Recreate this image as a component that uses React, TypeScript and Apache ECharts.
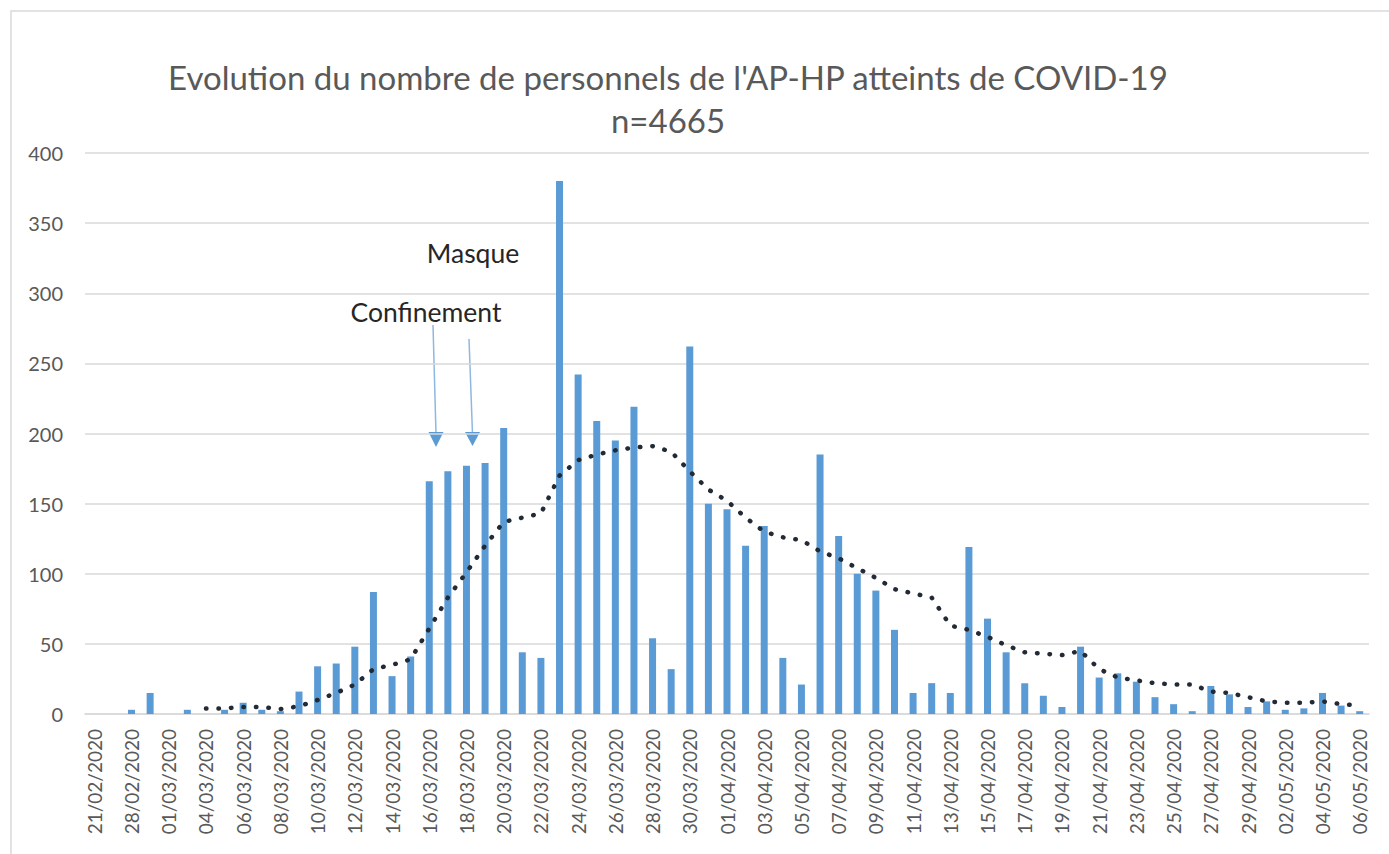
import React, { useEffect, useRef } from "react";
import * as echarts from "echarts";

const dates = [
  "21/02/2020", "27/02/2020", "28/02/2020", "29/02/2020", "01/03/2020", "02/03/2020",
  "04/03/2020", "05/03/2020", "06/03/2020", "07/03/2020", "08/03/2020", "09/03/2020",
  "10/03/2020", "11/03/2020", "12/03/2020", "13/03/2020", "14/03/2020", "15/03/2020",
  "16/03/2020", "17/03/2020", "18/03/2020", "19/03/2020", "20/03/2020", "21/03/2020",
  "22/03/2020", "23/03/2020", "24/03/2020", "25/03/2020", "26/03/2020", "27/03/2020",
  "28/03/2020", "29/03/2020", "30/03/2020", "31/03/2020", "01/04/2020", "02/04/2020",
  "03/04/2020", "04/04/2020", "05/04/2020", "06/04/2020", "07/04/2020", "08/04/2020",
  "09/04/2020", "10/04/2020", "11/04/2020", "12/04/2020", "13/04/2020", "14/04/2020",
  "15/04/2020", "16/04/2020", "17/04/2020", "18/04/2020", "19/04/2020", "20/04/2020",
  "21/04/2020", "22/04/2020", "23/04/2020", "24/04/2020", "25/04/2020", "26/04/2020",
  "27/04/2020", "28/04/2020", "29/04/2020", "30/04/2020", "02/05/2020", "03/05/2020",
  "04/05/2020", "05/05/2020", "06/05/2020",
];

const cases = [
  0, 0, 3, 15, 0, 3,
  0, 3, 8, 3, 2, 16,
  34, 36, 48, 87, 27, 41,
  166, 173, 177, 179, 204, 44,
  40, 380, 242, 209, 195, 219,
  54, 32, 262, 150, 146, 120,
  134, 40, 21, 185, 127, 100,
  88, 60, 15, 22, 15, 119,
  68, 44, 22, 13, 5, 48,
  26, 29, 23, 12, 7, 2,
  20, 14, 5, 9, 3, 4,
  15, 6, 2,
];

const trend = [
  null, null, null, null, null, null,
  4, 4, 5, 5, 3.5, 5.5,
  10, 15, 21, 32, 35, 39,
  61, 83, 101, 120, 137, 140,
  143, 170, 181, 185, 188, 190,
  191, 187, 173, 160, 152, 140,
  130, 126, 124, 116, 111, 104,
  97, 89, 86, 83, 63, 60,
  55, 49, 44, 43, 42, 45,
  32, 26, 24, 22, 21, 21,
  16, 15, 12, 9, 8, 8,
  9, 7, 6,
];

const yTicks = { min: 0, max: 400, interval: 50 };

const titleLines = [
  "Evolution du nombre de personnels de l'AP-HP atteints de COVID-19",
  "n=4665",
];

const FONT = "Lato, 'Open Sans', sans-serif";

export default function App() {
  const ref = useRef<HTMLDivElement>(null);

  useEffect(() => {
    document.body.style.margin = "0";
    const chart = echarts.init(ref.current!, null, { renderer: "svg" });
    chart.setOption({
      animation: false,
      backgroundColor: "#ffffff",
      textStyle: { fontFamily: FONT },
      grid: { left: 85, right: 20, top: 153, bottom: 140, containLabel: false },
      xAxis: {
        type: "category",
        data: dates,
        axisLine: { lineStyle: { color: "#d9d9d9", width: 1.5 } },
        axisTick: { show: false },
        axisLabel: {
          interval: 1,
          rotate: 90,
          fontSize: 19,
          color: "#595959",
          margin: 15,
          fontFamily: FONT,
        },
      },
      yAxis: {
        type: "value",
        min: yTicks.min,
        max: yTicks.max,
        interval: yTicks.interval,
        axisLine: { show: false },
        axisTick: { show: false },
        axisLabel: { fontSize: 20, color: "#595959", margin: 22, fontFamily: FONT },
        splitLine: { lineStyle: { color: "#d9d9d9", width: 1.5 } },
      },
      series: [
        {
          type: "bar",
          data: cases,
          barWidth: 7,
          itemStyle: { color: "#5B9BD5" },
        },
        {
          type: "line",
          data: trend,
          symbol: "none",
          connectNulls: false,
          lineStyle: {
            color: "#222A35",
            width: 4.5,
            type: [0.5, 12],
            cap: "round",
          },
          z: 5,
        },
      ],
      graphic: [
        {
          type: "rect",
          shape: { x: 11, y: 11, width: 1400, height: 900 },
          style: { fill: "none", stroke: "#d9d9d9", lineWidth: 1.5 },
          silent: true,
          z: -1,
        },
        {
          type: "text",
          x: 668,
          y: 77,
          style: {
            text: titleLines[0],
            fontSize: 33,
            fontFamily: FONT,
            fill: "#595959",
            textAlign: "center",
            textVerticalAlign: "middle",
          },
        },
        {
          type: "text",
          x: 668,
          y: 120,
          style: {
            text: titleLines[1],
            fontSize: 33,
            fontFamily: FONT,
            fill: "#595959",
            textAlign: "center",
            textVerticalAlign: "middle",
          },
        },
        {
          type: "text",
          x: 473,
          y: 253,
          style: {
            text: "Masque",
            fontSize: 26.5,
            fontFamily: FONT,
            fill: "#262626",
            textAlign: "center",
            textVerticalAlign: "middle",
          },
        },
        {
          type: "text",
          x: 426,
          y: 312,
          style: {
            text: "Confinement",
            fontSize: 26.5,
            fontFamily: FONT,
            fill: "#262626",
            textAlign: "center",
            textVerticalAlign: "middle",
          },
        },
        {
          type: "line",
          shape: { x1: 433, y1: 325, x2: 436, y2: 434 },
          style: { stroke: "#8FB8E0", lineWidth: 1.5 },
        },
        {
          type: "polygon",
          shape: { points: [[428.5, 432], [443.5, 432], [436, 447]] },
          style: { fill: "#5B9BD5" },
        },
        {
          type: "line",
          shape: { x1: 469, y1: 339, x2: 472.5, y2: 434 },
          style: { stroke: "#8FB8E0", lineWidth: 1.5 },
        },
        {
          type: "polygon",
          shape: { points: [[465, 432], [480, 432], [472.5, 446]] },
          style: { fill: "#5B9BD5" },
        },
      ],
    });
    return () => chart.dispose();
  }, []);

  return <div ref={ref} style={{ width: 1389, height: 854 }} />;
}
